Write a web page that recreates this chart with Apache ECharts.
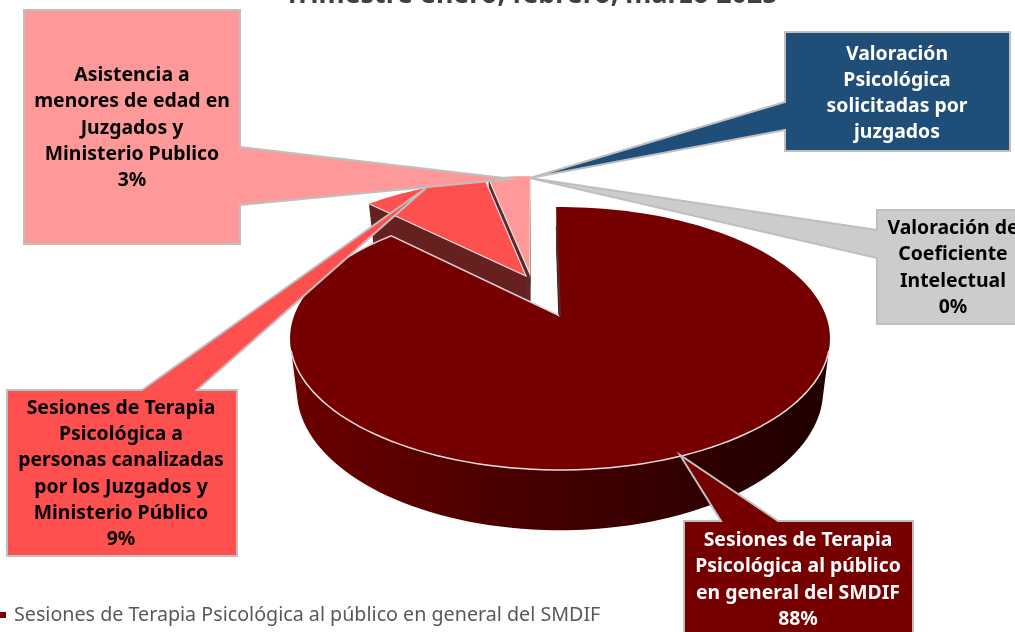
<!DOCTYPE html>
<html lang="es">
<head>
<meta charset="utf-8">
<title>Trimestre enero, febrero, marzo 2025</title>
<style>
  html, body { margin: 0; padding: 0; background: #fff; }
  #chart { width: 1015px; height: 632px; }
</style>
</head>
<body>
<div id="chart"></div>
<script src="https://cdn.jsdelivr.net/npm/echarts@6/dist/echarts.min.js"></script>
<script>
const titleText = 'Trimestre enero, febrero, marzo 2025'
const categories = [
  'Sesiones de Terapia Psicológica al público en general del SMDIF',
  'Sesiones de Terapia Psicológica a personas canalizadas por los Juzgados y Ministerio Público',
  'Asistencia a menores de edad en Juzgados y Ministerio Publico',
  'Valoración Psicológica solicitadas por juzgados',
  'Valoración de Coeficiente Intelectual'
]
const values = [87.7, 9.2, 3.1, 0, 0]
const labelLines = [
  ['Sesiones de Terapia', 'Psicológica al público', 'en general del SMDIF'],
  ['Sesiones de Terapia', 'Psicológica a', 'personas canalizadas', 'por los Juzgados y', 'Ministerio Público'],
  ['Asistencia a', 'menores de edad en', 'Juzgados y', 'Ministerio Publico'],
  ['Valoración', 'Psicológica', 'solicitadas por', 'juzgados'],
  ['Valoración de', 'Coeficiente', 'Intelectual']
]
const showPercent = [true, true, true, false, true]
const colors = ['#760000', '#ff5050', '#ff9999', '#1f4e79', '#cccccc']
const textColors = ['#ffffff', '#000000', '#000000', '#ffffff', '#000000']
const wallColors = ['#3f0000', '#662020', '#5c2a2a', '#1f4e79', '#cccccc']

// 3D look of the pie: perspective ellipse around the tip of the big slice
const pie = { cx: 560, cy: 316, rx: 266, ry: 127.6, depth: 50, persp: 0.171, shrink: 0.025, startAngle: -1 }
// part of the rim that faces the viewer, degrees clockwise from the back
const frontFrom = 105
const frontTo = 255
// how far each slice is pulled out, in pie radii (u right, w towards viewer)
const explode = [[0, 0], [-0.135, -0.331], [-0.12, -0.35], [0, 0], [0, 0]]
const drawRank = [2, 1, 0, 3, 4]

// box + pointer of each callout, same index as categories
const callouts = [
  { x: 684, y: 521, w: 229, h: 130, side: 'top', a: 721, b: 778, tip: [680, 455], tx: 798, ty: 580 },
  { x: 7, y: 390, w: 230, h: 166, side: 'top', a: 142, b: 197, tip: [426, 188], tx: 121, ty: 474 },
  { x: 24, y: 10, w: 216, h: 234, side: 'right', a: 147, b: 205, tip: [512, 179], tx: 132, ty: 128 },
  { x: 785, y: 32, w: 225, h: 119, side: 'left', a: 102, b: 130, tip: [530, 178], tx: 897, ty: 93.5 },
  { x: 877, y: 210, w: 160, h: 114, side: 'left', a: 230, b: 258, tip: [530, 178], tx: 953, ty: 268 }
]
const calloutOrder = [0, 3, 4, 1, 2]

const total = values.reduce((a, b) => a + b, 0)
const percent = values.map((v) => Math.round((v / total) * 100) + '%')

function project(u, w, h) {
  const s = 1 / (1 - pie.persp * w)
  return [pie.cx + pie.rx * u * s * (1 - pie.shrink * h), pie.cy + (pie.ry * w + pie.depth * h) * s]
}

function rimPoint(i, deg, h, r = 1) {
  const a = (deg * Math.PI) / 180
  return project(explode[i][0] + r * Math.sin(a), explode[i][1] - r * Math.cos(a), h)
}

function arc(i, from, to, h) {
  const pts = []
  const steps = Math.max(2, Math.ceil(Math.abs(to - from) / 2))
  for (let k = 0; k <= steps; k++) pts.push(rimPoint(i, from + ((to - from) * k) / steps, h))
  return pts
}

function edgeWall(i, deg) {
  return [rimPoint(i, deg, 0, 0), rimPoint(i, deg, 0), rimPoint(i, deg, 1), rimPoint(i, deg, 1, 0)]
}

function renderSlice(params, api) {
  const i = params.dataIndex
  const value = api.value(1)
  if (!value) return null
  const before = values.slice(0, i).reduce((a, b) => a + b, 0)
  const a0 = pie.startAngle + (before / total) * 360
  const a1 = a0 + (value / total) * 360
  const z = drawRank[i] * 10
  const poly = (points, fill, k) => ({ type: 'polygon', z2: z + k, shape: { points }, style: { fill, stroke: null } })
  const line = (points, stroke, lineWidth, k) => ({
    type: 'polyline', z2: z + k, shape: { points }, style: { fill: null, stroke, lineWidth }
  })
  const apex = rimPoint(i, a0, 0, 0)
  const children = [poly(edgeWall(i, a0), wallColors[i], 1), poly(edgeWall(i, a1), wallColors[i], 1)]
  const from = Math.max(a0, frontFrom)
  const to = Math.min(a1, frontTo)
  if (to > from) {
    const wallFill = new echarts.graphic.LinearGradient(0, 0, 1, 0, [
      { offset: 0, color: '#6b0000' },
      { offset: 0.5, color: '#420000' },
      { offset: 1, color: '#1f0000' }
    ])
    children.push(poly(arc(i, from, to, 0).concat(arc(i, to, from, 1)), wallFill, 2))
  }
  children.push(poly([apex].concat(arc(i, a0, a1, 0)), colors[i], 3))
  if (i === 0) {
    // white rim along the front of the pie, light seams on the cut
    children.push(line(arc(i, frontFrom, frontTo, 0), '#e6dede', 1.5, 4))
    children.push(line([apex, rimPoint(i, a1, 0)].concat(arc(i, a1, 300, 0)), '#d9d0d0', 1.5, 4))
    children.push(line([apex, rimPoint(i, a0, 0, 0.8)], '#5a2a2a', 2, 4))
  } else {
    children.push(line([rimPoint(i, a0, 0), apex, rimPoint(i, a1, 0)], '#e3dcdc', 1.2, 4))
  }
  return { type: 'group', children }
}

function renderCallout(params, api) {
  const i = api.value(0)
  const c = callouts[i]
  const x2 = c.x + c.w
  const y2 = c.y + c.h
  let points
  if (c.side === 'top') {
    points = [[c.x, c.y], [c.a, c.y], c.tip, [c.b, c.y], [x2, c.y], [x2, y2], [c.x, y2]]
  } else if (c.side === 'right') {
    points = [[c.x, c.y], [x2, c.y], [x2, c.a], c.tip, [x2, c.b], [x2, y2], [c.x, y2]]
  } else {
    points = [[c.x, c.y], [x2, c.y], [x2, y2], [c.x, y2], [c.x, c.b], c.tip, [c.x, c.a]]
  }
  const lines = labelLines[i].concat(showPercent[i] ? [percent[i]] : [])
  const z = 100 + params.dataIndex * 2
  return {
    type: 'group',
    children: [
      { type: 'polygon', z2: z, shape: { points }, style: { fill: colors[i], stroke: '#bfbfbf', lineWidth: 2 } },
      {
        type: 'text',
        z2: z + 1,
        x: c.tx,
        y: c.ty,
        style: {
          text: lines.join('\n'),
          fill: textColors[i],
          font: 'bold 19.4px "Noto Sans"',
          lineHeight: 26.2,
          align: 'center',
          verticalAlign: 'middle'
        }
      }
    ]
  }
}

const chart = echarts.init(document.getElementById('chart'))
chart.setOption({
  animation: false,
  title: {
    text: titleText,
    left: 531,
    top: -18.5,
    textAlign: 'center',
    padding: 0,
    textStyle: { color: '#404040', fontFamily: 'Noto Sans', fontSize: 26.75, fontWeight: 'bold' }
  },
  legend: {
    data: [categories[0]],
    left: 0,
    top: 605,
    padding: 0,
    itemWidth: 6,
    itemHeight: 6,
    itemGap: 0,
    icon: 'rect',
    selectedMode: false,
    textStyle: { color: '#595959', fontFamily: 'Noto Sans', fontSize: 19.7, padding: [0, 0, 0, 3] }
  },
  series: [
    {
      type: 'custom',
      name: categories[0],
      coordinateSystem: 'none',
      silent: true,
      itemStyle: { color: colors[0] },
      data: values.map((v, i) => [i, v]),
      renderItem: renderSlice
    },
    {
      type: 'custom',
      name: 'callouts',
      coordinateSystem: 'none',
      silent: true,
      z: 5,
      data: calloutOrder.map((i) => [i]),
      renderItem: renderCallout
    }
  ]
})
</script>
</body>
</html>
